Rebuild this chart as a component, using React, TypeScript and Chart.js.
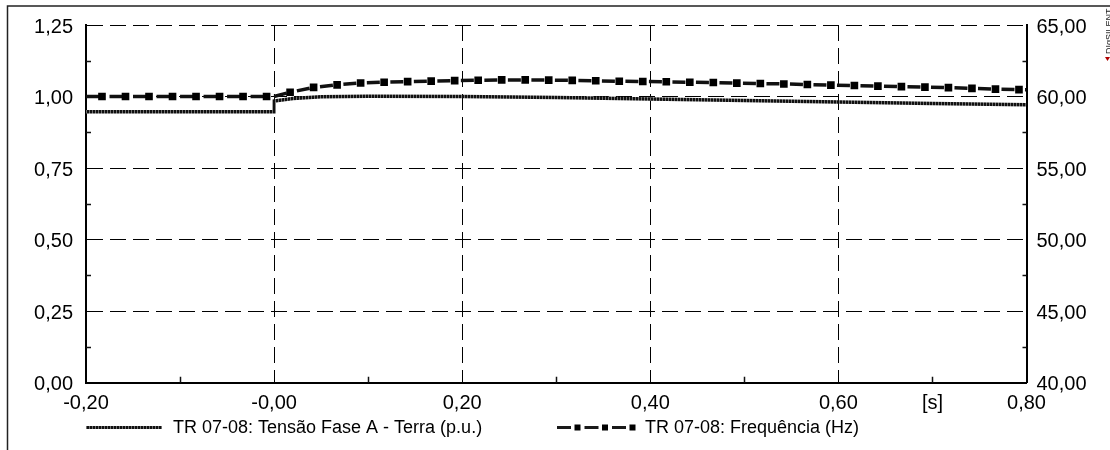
import React, { useEffect, useRef } from 'react';
import { Chart, registerables } from 'chart.js';

Chart.register(...registerables);

// Phase A to ground voltage (p.u.), sampled in seconds
const voltageTime = [-0.2, 0.0, 0.0, 0.02, 0.05, 0.1, 0.2, 0.3, 0.35, 0.4, 0.5, 0.6, 0.7, 0.8];
const voltagePu = [0.947, 0.947, 0.984, 0.993, 0.999, 1.001, 1.0, 0.997, 0.994, 0.991, 0.986, 0.981, 0.976, 0.971];

// Frequency (Hz); marked samples every 25 ms
const frequencyTime = [
  -0.2, -0.183, -0.158, -0.133, -0.108, -0.083, -0.058, -0.033, -0.008, 0.0,
  0.017, 0.042, 0.067, 0.092, 0.117, 0.142, 0.167, 0.192, 0.217, 0.242,
  0.267, 0.292, 0.317, 0.342, 0.367, 0.392, 0.417, 0.442, 0.467, 0.492,
  0.517, 0.542, 0.567, 0.592, 0.617, 0.642, 0.667, 0.692, 0.717, 0.742,
  0.767, 0.792, 0.8,
];
const frequencyHz = [
  60.0, 60.0, 60.0, 60.0, 60.0, 60.0, 60.0, 60.0, 60.0, 60.0,
  60.3, 60.64, 60.82, 60.95, 61.0, 61.04, 61.08, 61.11, 61.14, 61.16,
  61.16, 61.15, 61.13, 61.1, 61.07, 61.05, 61.03, 61.0, 60.98, 60.94,
  60.91, 60.88, 60.84, 60.8, 60.77, 60.73, 60.69, 60.66, 60.62, 60.57,
  60.52, 60.48, 60.47,
];
// samples drawn without a square marker
const unmarkedTimes = [-0.2, 0.0, 0.8];

const xTickValues = [-0.2, 0, 0.2, 0.4, 0.6, 0.7, 0.8];
const xTickLabels = ['-0,20', '-0,00', '0,20', '0,40', '0,60', '[s]', '0,80'];
const xMinorTicks = [-0.1, 0.1, 0.3, 0.5, 0.7];
const yLeftMinorTicks = [0.125, 0.375, 0.625, 0.875, 1.125];
const yRightMinorTicks = [42.5, 47.5, 52.5, 57.5, 62.5];

const legendLabels = ['TR 07-08: Tensão Fase A - Terra (p.u.)', 'TR 07-08: Frequência (Hz)'];
const watermark = 'DIgSILENT';

const FONT = '"Liberation Sans", Arial, sans-serif';
const fmt = (v: number) => v.toFixed(2).replace('.', ',');

function makeStipple(ctx: CanvasRenderingContext2D): CanvasPattern | string {
  const tile = document.createElement('canvas');
  tile.width = 3;
  tile.height = 3;
  const t = tile.getContext('2d');
  if (!t) return '#333';
  t.fillStyle = '#707070';
  t.fillRect(0, 0, 3, 3);
  t.fillStyle = '#101010';
  t.fillRect(0, 0, 2, 3);
  return ctx.createPattern(tile, 'repeat') || '#333';
}

export default function App() {
  const canvasRef = useRef<HTMLCanvasElement | null>(null);

  useEffect(() => {
    const canvas = canvasRef.current;
    if (!canvas) return;
    const ctx = canvas.getContext('2d');
    if (!ctx) return;
    const stipple = makeStipple(ctx);

    const decor = {
      id: 'decor',
      afterDraw(chart: any) {
        const c: CanvasRenderingContext2D = chart.ctx;
        const { left, right, bottom } = chart.chartArea;
        const sx = chart.scales.x;
        const sy = chart.scales.y;
        const sy1 = chart.scales.y1;
        c.save();

        // outer frame (top and left edges)
        c.strokeStyle = '#222';
        c.lineWidth = 1.5;
        c.beginPath();
        c.moveTo(1110, 6);
        c.lineTo(7.5, 6);
        c.lineTo(7.5, 450);
        c.stroke();

        // minor ticks pointing into the plot
        c.strokeStyle = '#111';
        c.lineWidth = 1.5;
        c.beginPath();
        xMinorTicks.forEach((v) => {
          const px = Math.round(sx.getPixelForValue(v)) + 0.5;
          c.moveTo(px, bottom);
          c.lineTo(px, bottom - 6);
        });
        yLeftMinorTicks.forEach((v) => {
          const py = Math.round(sy.getPixelForValue(v)) + 0.5;
          c.moveTo(left, py);
          c.lineTo(left + 5, py);
        });
        yRightMinorTicks.forEach((v) => {
          const py = Math.round(sy1.getPixelForValue(v)) + 0.5;
          c.moveTo(right, py);
          c.lineTo(right - 4, py);
        });
        c.stroke();

        // legend
        const ly = 427.5;
        c.lineWidth = 3;
        c.strokeStyle = stipple as any;
        c.beginPath();
        c.moveTo(86, ly);
        c.lineTo(162, ly);
        c.stroke();

        c.strokeStyle = '#1a1a1a';
        c.setLineDash([14, 13.5]);
        c.beginPath();
        c.moveTo(557, ly);
        c.lineTo(636, ly);
        c.stroke();
        c.setLineDash([]);
        c.fillStyle = '#000';
        for (let k = 0; k < 3; k++) {
          const cx = 577.5 + 27.5 * k;
          c.fillRect(cx - 3, ly - 3, 6, 6);
        }

        c.fillStyle = '#000';
        c.font = `18px ${FONT}`;
        c.textBaseline = 'middle';
        c.textAlign = 'left';
        c.fillText(legendLabels[0], 173, 428.5);
        c.fillText(legendLabels[1], 645, 428.5);

        // vertical brand mark at the right edge
        c.save();
        c.translate(1105, 54);
        c.rotate(-Math.PI / 2);
        c.font = `9px ${FONT}`;
        c.textBaseline = 'top';
        c.fillStyle = '#222';
        c.fillText(watermark, 0, 0);
        c.restore();
        c.fillStyle = '#b00000';
        c.beginPath();
        c.moveTo(1105, 57);
        c.lineTo(1110, 57);
        c.lineTo(1107.5, 61);
        c.closePath();
        c.fill();

        c.restore();
      },
    };

    const chart = new Chart(canvas, {
      type: 'line',
      data: {
        datasets: [
          {
            label: legendLabels[0],
            data: voltageTime.map((t, i) => ({ x: t, y: voltagePu[i] })),
            yAxisID: 'y',
            borderColor: stipple as any,
            borderWidth: 3.5,
            pointRadius: 0,
            tension: 0,
          },
          {
            label: legendLabels[1],
            data: frequencyTime.map((t, i) => ({ x: t, y: frequencyHz[i] })),
            yAxisID: 'y1',
            borderColor: '#111',
            borderWidth: 3.5,
            borderDash: [13, 10.51],
            borderDashOffset: 0,
            pointStyle: 'rect',
            pointRadius: frequencyTime.map((t) => (unmarkedTimes.includes(t) ? 0 : 5.4)),
            pointBackgroundColor: '#000',
            pointBorderWidth: 0,
            tension: 0,
          },
        ],
      },
      options: {
        responsive: false,
        animation: false,
        devicePixelRatio: 1,
        layout: { padding: { top: 21.3, left: 0, right: 0, bottom: 0 } },
        plugins: {
          legend: { display: false },
          tooltip: { enabled: false },
        },
        scales: {
          x: {
            type: 'linear',
            min: -0.2,
            max: 0.8,
            afterBuildTicks: (s: any) => {
              s.ticks = xTickValues.map((v) => ({ value: v }));
            },
            afterFit: (s: any) => {
              s.height = 67.3;
            },
            ticks: {
              autoSkip: false,
              maxRotation: 0,
              padding: 9,
              color: '#000',
              font: { family: FONT, size: 20 },
              callback: (_v: any, i: number) => xTickLabels[i],
            },
            grid: {
              color: (ctx: any) => (ctx.tick && ctx.tick.value === 0.7 ? 'rgba(0,0,0,0)' : '#000'),
              lineWidth: 1,
              drawTicks: false,
            },
            border: { color: '#000', width: 2, dash: [16, 7] },
          },
          y: {
            position: 'left',
            min: 0,
            max: 1.25,
            afterFit: (s: any) => {
              s.width = 86;
            },
            ticks: {
              stepSize: 0.25,
              padding: 13,
              labelOffset: 2,
              color: '#000',
              font: { family: FONT, size: 20 },
              callback: (v: any) => fmt(Number(v)),
            },
            grid: { color: '#000', lineWidth: 1, drawTicks: false },
            border: { color: '#000', width: 2, dash: [16, 7] },
          },
          y1: {
            position: 'right',
            min: 40,
            max: 65,
            afterFit: (s: any) => {
              s.width = 83.5;
            },
            ticks: {
              stepSize: 5,
              padding: 10,
              labelOffset: 2,
              color: '#000',
              font: { family: FONT, size: 20 },
              callback: (v: any) => fmt(Number(v)),
            },
            grid: { drawOnChartArea: false, drawTicks: false },
            border: { color: '#000', width: 2 },
          },
        },
      },
      plugins: [decor],
    } as any);

    return () => chart.destroy();
  }, []);

  return (
    <div style={{ position: 'absolute', left: 0, top: 0, width: 1110, height: 450, background: '#fff' }}>
      <canvas ref={canvasRef} width={1110} height={450} style={{ display: 'block', width: 1110, height: 450 }} />
    </div>
  );
}
